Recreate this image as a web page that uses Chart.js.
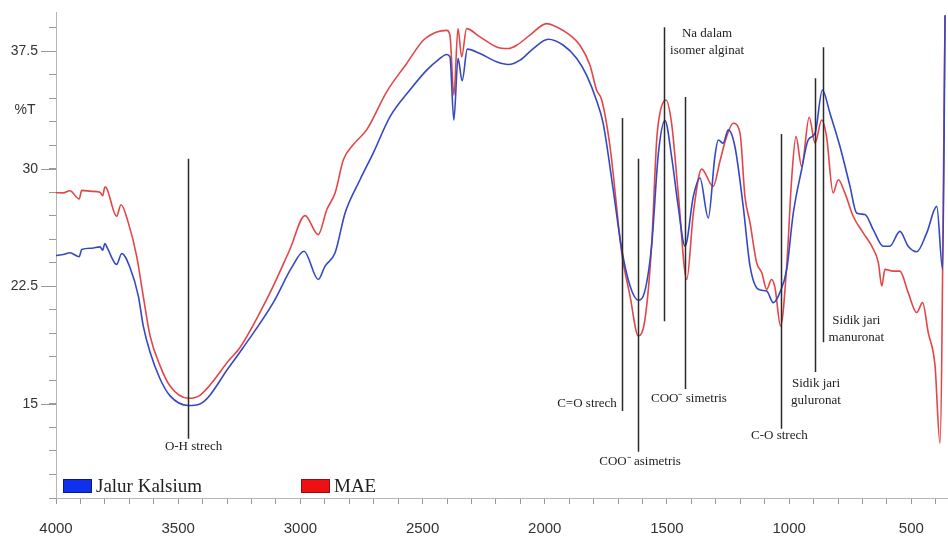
<!DOCTYPE html>
<html>
<head>
<meta charset="utf-8">
<script src="https://cdn.jsdelivr.net/npm/chart.js@4.4.1/dist/chart.umd.min.js"></script>
<style>
  html, body { margin: 0; padding: 0; background: #fff; }
  canvas { display: block; }
</style>
</head>
<body>
<canvas id="ftirChart" width="948" height="540"></canvas>
<script>
// Jalur Kalsium (blue) - wavenumber (cm-1) and %T
const kalsiumWn = [4000, 3970, 3943, 3905, 3895, 3854, 3820, 3809, 3800, 3790, 3752, 3731, 3697, 3663, 3643, 3615, 3574, 3534, 3459, 3411,
  3288, 3234, 3111, 3036, 2985, 2927, 2899, 2858, 2817, 2756, 2702, 2633, 2552, 2483, 2436, 2401, 2388, 2372, 2355, 2338,
  2317, 2265, 2197, 2149, 2101, 2047, 1986, 1924, 1869, 1829, 1788, 1761, 1720, 1685, 1651, 1617, 1597, 1563, 1535, 1508,
  1481, 1454, 1426, 1392, 1365, 1331, 1304, 1290, 1270, 1249, 1222, 1188, 1160, 1126, 1092, 1065, 1038, 1010, 983, 949,
  922, 894, 864, 833, 792, 751, 724, 690, 656, 615, 588, 547, 513, 478, 437, 396, 372, 362];
const kalsiumT = [24.47, 24.53, 24.64, 24.39, 24.85, 24.93, 25.02, 24.81, 25.23, 24.95, 23.9, 24.6, 23.69, 21.88, 19.98, 18.29, 16.59, 15.53, 14.9, 15.0,
  17.43, 18.6, 21.46, 23.69, 24.74, 22.94, 23.79, 24.64, 27.18, 29.3, 31.0, 33.32, 35.02, 36.29, 36.95, 37.29, 37.14, 33.11, 37.04, 35.61,
  37.63, 37.35, 36.82, 36.65, 36.93, 37.67, 38.26, 37.88, 37.04, 35.97, 34.35, 32.9, 28.67, 24.85, 22.52, 21.61, 21.88, 25.06, 31.0, 33.07,
  30.78, 27.6, 25.06, 28.24, 29.41, 26.87, 30.78, 31.84, 31.63, 32.48, 31.42, 27.6, 23.79, 22.31, 22.2, 21.46, 22.1, 23.58, 27.18, 29.94,
  31.84, 32.27, 35.02, 33.54, 31.42, 28.88, 27.18, 27.08, 26.12, 25.06, 25.06, 26.01, 25.06, 24.71, 25.91, 27.6, 23.58, 39.8];

// MAE (red)
const maeWn = [4000, 3970, 3943, 3905, 3895, 3854, 3820, 3809, 3800, 3793, 3752, 3734, 3704, 3670, 3643, 3615, 3574, 3534, 3459, 3411,
  3288, 3247, 3124, 3043, 2981, 2927, 2892, 2858, 2824, 2784, 2729, 2647, 2565, 2497, 2442, 2401, 2388, 2372, 2355, 2340,
  2320, 2265, 2197, 2149, 2115, 2061, 1992, 1951, 1897, 1856, 1815, 1788, 1767, 1733, 1685, 1651, 1617, 1590, 1563, 1542,
  1529, 1504, 1481, 1454, 1419, 1392, 1358, 1311, 1283, 1256, 1229, 1201, 1181, 1160, 1133, 1112, 1092, 1072, 1058, 1035,
  1010, 990, 972, 949, 918, 894, 867, 847, 820, 799, 772, 738, 697, 662, 635, 621, 608, 574, 547, 513,
  478, 454, 431, 403, 383, 362];
const maeT = [28.47, 28.46, 28.6, 28.07, 28.62, 28.56, 28.5, 28.28, 28.83, 28.77, 26.97, 27.71, 26.55, 24.43, 21.88, 19.34, 17.43, 16.16, 15.36, 15.55,
  17.86, 18.6, 22.1, 24.85, 27.01, 25.8, 27.39, 28.46, 30.57, 31.53, 32.48, 34.91, 36.72, 38.2, 38.73, 38.83, 38.52, 34.7, 38.94, 37.14,
  38.94, 38.41, 37.77, 37.67, 37.88, 38.52, 39.26, 39.04, 38.52, 37.88, 36.61, 35.02, 34.39, 31.42, 24.64, 21.88, 19.34, 20.4, 25.06, 31.84,
  33.54, 34.39, 32.9, 28.46, 22.94, 27.18, 29.98, 28.87, 30.5, 32.05, 32.9, 32.27, 28.24, 26.55, 24.01, 23.37, 22.31, 22.94, 22.42, 19.98,
  23.79, 29.3, 32.05, 30.15, 33.29, 31.63, 33.11, 32.05, 28.46, 29.3, 28.46, 26.97, 25.91, 25.06, 24.01, 22.52, 23.58, 23.47, 23.47, 22.1,
  20.83, 21.46, 19.56, 17.43, 12.5, 39.8];

// band assignments: marker line (wavenumber, top %T, bottom %T) and label anchor
const bandLabels = [
  { wn: 3460, top: 30.64, bottom: 12.78, text: ['O-H strech'], tx: 3437, ty: 12.27, align: 'center' },
  { wn: 1684, top: 33.24, bottom: 14.55, text: ['C=O strech'], tx: 1705, ty: 15.0, align: 'right' },
  { wn: 1619, top: 30.64, bottom: 11.95, text: ['COO\u207B asimetris'], tx: 1610, ty: 11.31, align: 'center' },
  { wn: 1512, top: 39.03, bottom: 20.28, text: ['Na dalam', 'isomer alginat'], tx: 1336, ty: 38.64, align: 'center' },
  { wn: 1426, top: 34.58, bottom: 15.95, text: ['COO\u207B simetris'], tx: 1410, ty: 15.32, align: 'center' },
  { wn: 1034, top: 32.22, bottom: 13.41, text: ['C-O strech'], tx: 1040, ty: 12.97, align: 'center' },
  { wn: 895, top: 35.78, bottom: 17.03, text: ['Sidik jari', 'guluronat'], tx: 890, ty: 16.33, align: 'center' },
  { wn: 862, top: 37.75, bottom: 18.94, text: ['Sidik jari', 'manuronat'], tx: 725, ty: 20.34, align: 'center' }
];

const serif = "'Liberation Serif', 'Times New Roman', serif";
const sans = "'Liberation Sans', Arial, sans-serif";

function toPoints(xs, ys) {
  return xs.map((x, i) => ({ x: x, y: ys[i] }));
}

function isMajorY(v) {
  const k = (v - 15) / 7.5;
  return Math.abs(k - Math.round(k)) < 1e-6;
}

// vertical marker lines, their labels, the %T title and the inner legend
const overlayPlugin = {
  id: 'overlay',
  afterDatasetsDraw(chart) {
    const ctx = chart.ctx;
    const xs = chart.scales.x;
    const ys = chart.scales.y;
    const area = chart.chartArea;

    ctx.save();
    // longer ticks for the labelled %T values
    ctx.strokeStyle = '#999';
    ctx.lineWidth = 1;
    ys.ticks.forEach(t => {
      if (!isMajorY(t.value)) return;
      const py = Math.round(ys.getPixelForValue(t.value)) + 0.5;
      ctx.beginPath();
      ctx.moveTo(area.left - 15, py);
      ctx.lineTo(area.left, py);
      ctx.stroke();
    });

    ctx.strokeStyle = '#2a2a2a';
    ctx.lineWidth = 1.5;
    bandLabels.forEach(b => {
      const px = Math.round(xs.getPixelForValue(b.wn)) + 0.5;
      ctx.beginPath();
      ctx.moveTo(px, ys.getPixelForValue(b.top));
      ctx.lineTo(px, ys.getPixelForValue(b.bottom));
      ctx.stroke();
    });

    ctx.fillStyle = '#222';
    ctx.font = '13px ' + serif;
    ctx.textBaseline = 'middle';
    bandLabels.forEach(b => {
      ctx.textAlign = b.align;
      const tx = xs.getPixelForValue(b.tx);
      const ty = ys.getPixelForValue(b.ty);
      b.text.forEach((line, i) => ctx.fillText(line, tx, ty + i * 17.5));
    });

    // %T axis caption
    ctx.fillStyle = '#333';
    ctx.font = '14px ' + sans;
    ctx.textAlign = 'center';
    ctx.fillText('%T', area.left - 31, ys.getPixelForValue(33.75));

    // legend boxes drawn inside the plot, as in the original
    const legendY = area.bottom - 12;
    const items = [
      { x: area.left + 7, ds: chart.data.datasets[0], fill: '#1030f0', edge: '#0a1a80' },
      { x: area.left + 245, ds: chart.data.datasets[1], fill: '#ee1111', edge: '#901010' }
    ];
    ctx.font = '19px ' + serif;
    ctx.textAlign = 'left';
    items.forEach(it => {
      ctx.fillStyle = it.fill;
      ctx.fillRect(it.x, legendY - 7, 29, 14);
      ctx.strokeStyle = it.edge;
      ctx.lineWidth = 1;
      ctx.strokeRect(it.x + 0.5, legendY - 6.5, 28, 13);
      ctx.fillStyle = '#222';
      ctx.fillText(it.ds.label, it.x + 33, legendY + 1);
    });
    ctx.restore();
  }
};

const ctx = document.getElementById('ftirChart').getContext('2d');

new Chart(ctx, {
  type: 'line',
  data: {
    datasets: [
      {
        label: 'Jalur Kalsium',
        data: toPoints(kalsiumWn, kalsiumT),
        borderColor: 'rgba(52,72,196,1)',
        borderWidth: 1.6,
        pointRadius: 0,
        cubicInterpolationMode: 'monotone',
        fill: false
      },
      {
        label: 'MAE',
        data: toPoints(maeWn, maeT),
        borderColor: 'rgba(226,60,60,0.95)',
        borderWidth: 1.6,
        pointRadius: 0,
        cubicInterpolationMode: 'monotone',
        fill: false
      }
    ]
  },
  options: {
    responsive: false,
    animation: false,
    layout: { padding: { top: 12, right: 0, bottom: 0, left: 0 } },
    plugins: {
      legend: { display: false },
      tooltip: { enabled: false }
    },
    scales: {
      x: {
        type: 'linear',
        reverse: true,
        min: 350,
        max: 4000,
        afterFit: scale => {
          scale.height = 42;
          scale.paddingLeft = 0;
          scale.paddingRight = 0;
        },
        border: { display: true, color: '#b5b5b5', width: 1 },
        grid: { drawOnChartArea: false, drawTicks: true, tickLength: 6, color: '#999' },
        ticks: {
          stepSize: 100,
          includeBounds: false,
          autoSkip: false,
          maxRotation: 0,
          padding: 16,
          color: '#333',
          font: { family: sans, size: 15 },
          callback: v => (v % 500 === 0 ? String(v) : '')
        }
      },
      y: {
        min: 9,
        max: 40,
        afterFit: scale => {
          scale.width = 56;
          scale.paddingTop = 0;
          scale.paddingBottom = 0;
        },
        border: { display: true, color: '#b5b5b5', width: 1 },
        grid: { drawOnChartArea: false, drawTicks: true, tickLength: 7, color: '#999' },
        ticks: {
          stepSize: 1.5,
          includeBounds: false,
          autoSkip: false,
          padding: 11,
          color: '#333',
          font: { family: sans, size: 14 },
          callback: v => (isMajorY(v) ? String(v) : '')
        }
      }
    }
  },
  plugins: [overlayPlugin]
});
</script>
</body>
</html>
